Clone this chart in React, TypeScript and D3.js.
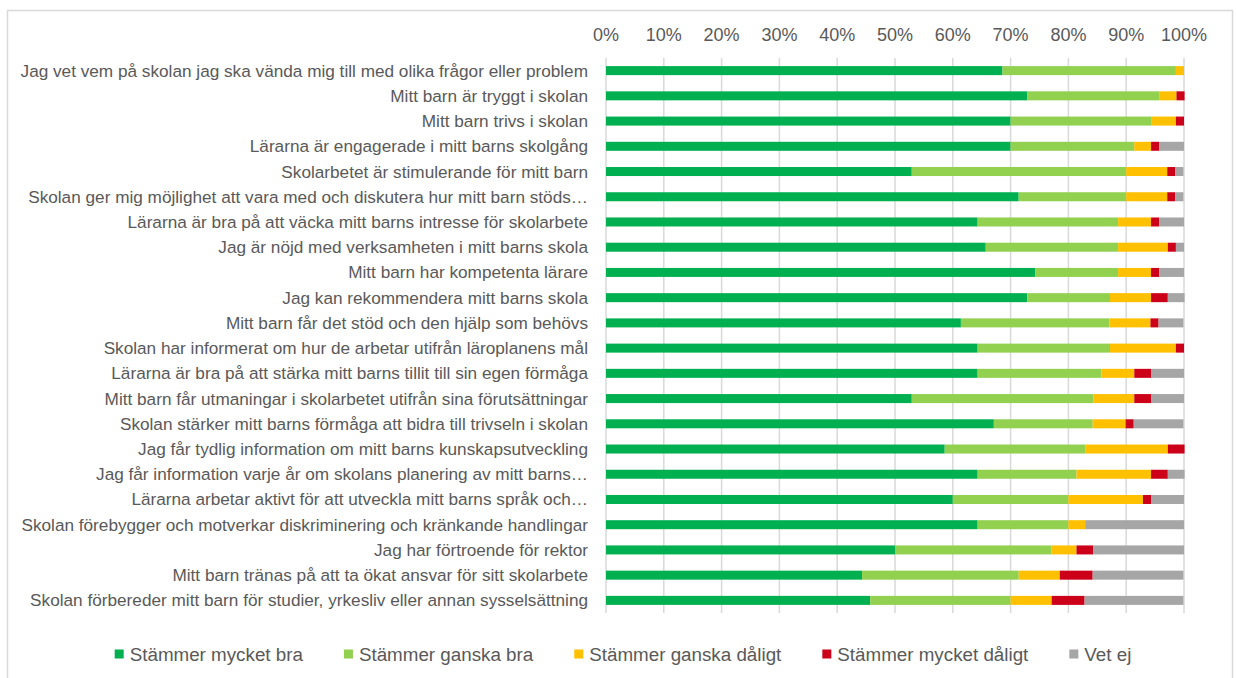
import React from "react";
import * as d3 from "d3";

const categories = [
  "Jag vet vem på skolan jag ska vända mig till med olika frågor eller problem",
  "Mitt barn är tryggt i skolan",
  "Mitt barn trivs i skolan",
  "Lärarna är engagerade i mitt barns skolgång",
  "Skolarbetet är stimulerande för mitt barn",
  "Skolan ger mig möjlighet att vara med och diskutera hur mitt barn stöds…",
  "Lärarna är bra på att väcka mitt barns intresse för skolarbete",
  "Jag är nöjd med verksamheten i mitt barns skola",
  "Mitt barn har kompetenta lärare",
  "Jag kan rekommendera mitt barns skola",
  "Mitt barn får det stöd och den hjälp som behövs",
  "Skolan har informerat om hur de arbetar utifrån läroplanens mål",
  "Lärarna är bra på att stärka mitt barns tillit till sin egen förmåga",
  "Mitt barn får utmaningar i skolarbetet utifrån sina förutsättningar",
  "Skolan stärker mitt barns förmåga att bidra till trivseln i skolan",
  "Jag får tydlig information om mitt barns kunskapsutveckling",
  "Jag får information varje år om skolans planering av mitt barns…",
  "Lärarna arbetar aktivt för att utveckla mitt barns språk och…",
  "Skolan förebygger och motverkar diskriminering och kränkande handlingar",
  "Jag har förtroende för rektor",
  "Mitt barn tränas på att ta ökat ansvar för sitt skolarbete",
  "Skolan förbereder mitt barn för studier, yrkesliv eller annan sysselsättning",
];

const seriesNames = [
  "Stämmer mycket bra",
  "Stämmer ganska bra",
  "Stämmer ganska dåligt",
  "Stämmer mycket dåligt",
  "Vet ej",
];

const veryGood = [68.6, 72.9, 70.0, 70.0, 52.9, 71.4, 64.3, 65.7, 74.3, 72.9, 61.4, 64.3, 64.3, 52.9, 67.1, 58.6, 64.3, 60.0, 64.3, 50.0, 44.3, 45.7];
const fairlyGood = [30.0, 22.9, 24.3, 21.4, 37.1, 18.6, 24.3, 22.9, 14.3, 14.3, 25.7, 22.9, 21.4, 31.4, 17.1, 24.3, 17.1, 20.0, 15.7, 27.1, 27.1, 24.3];
const fairlyBad = [1.4, 2.9, 4.3, 2.9, 7.1, 7.1, 5.7, 8.6, 5.7, 7.1, 7.1, 11.4, 5.7, 7.1, 5.7, 14.3, 12.9, 12.9, 2.9, 4.3, 7.1, 7.1];
const veryBad = [0, 1.4, 1.4, 1.4, 1.4, 1.4, 1.4, 1.4, 1.4, 2.9, 1.4, 1.4, 2.9, 2.9, 1.4, 2.9, 2.9, 1.4, 0, 2.9, 5.7, 5.7];
const dontKnow = [0, 0, 0, 4.3, 1.4, 1.4, 4.3, 1.4, 4.3, 2.9, 4.3, 0, 5.7, 5.7, 8.6, 0, 2.9, 5.7, 17.1, 15.7, 15.7, 17.1];

const tickValues = [0, 10, 20, 30, 40, 50, 60, 70, 80, 90, 100];
const colors = ["#00B050", "#92D050", "#FFC000", "#CC0019", "#A6A6A6"];

const FONT = "'Liberation Sans', Arial, sans-serif";
const W = 1236;
const H = 678;

function measure(text: string, size: number): number {
  if (typeof document === "undefined") return text.length * size * 0.5;
  const c = document.createElement("canvas");
  const ctx = c.getContext("2d");
  if (!ctx) return text.length * size * 0.5;
  ctx.font = `${size}px ${FONT}`;
  return ctx.measureText(text).width;
}

export default function App() {
  const rows = categories.map((c, i) => ({
    cat: c,
    s0: veryGood[i],
    s1: fairlyGood[i],
    s2: fairlyBad[i],
    s3: veryBad[i],
    s4: dontKnow[i],
  }));
  const keys = ["s0", "s1", "s2", "s3", "s4"];
  const stacked = d3.stack<any>().keys(keys)(rows);

  const x = d3.scaleLinear().domain([0, 100]).range([606, 1184]);
  const y = d3
    .scaleBand<string>()
    .domain(categories)
    .range([58, 613])
    .paddingInner(0.643)
    .paddingOuter(0.3215);

  const legendSize = 18.8;
  const sq = 9;
  const gapText = 6;
  const gapItem = 41;
  const widths = seriesNames.map((s) => measure(s, legendSize));
  const itemW = widths.map((w) => sq + gapText + w);
  const total = d3.sum(itemW) + gapItem * (seriesNames.length - 1);
  const legendStart = 623 - total / 2;
  const legendX: number[] = [];
  let acc = legendStart;
  itemW.forEach((w) => {
    legendX.push(acc);
    acc += w + gapItem;
  });
  const legendY = 654;

  return (
    <svg
      width={W}
      height={H}
      style={{ position: "absolute", left: 0, top: 0, background: "#fff" }}
      fontFamily={FONT}
    >
      <rect x={7.5} y={10.5} width={1225} height={700} fill="#fff" stroke="#D9D9D9" strokeWidth={1.5} />
      {tickValues.map((t) => (
        <g key={t}>
          <line x1={x(t)} x2={x(t)} y1={58} y2={613} stroke="#D9D9D9" strokeWidth={1.5} />
          <text x={x(t)} y={35} textAnchor="middle" dominantBaseline="central" fontSize={18} fill="#595959">
            {t}%
          </text>
        </g>
      ))}
      {stacked.map((layer, li) => (
        <g key={li} fill={colors[li]}>
          {layer.map((d, i) => {
            const w = x(d[1]) - x(d[0]);
            if (w <= 0) return null;
            return (
              <rect
                key={i}
                x={x(d[0])}
                y={y(categories[i])}
                width={w}
                height={y.bandwidth()}
              />
            );
          })}
        </g>
      ))}
      {categories.map((c) => (
        <text
          key={c}
          x={588}
          y={(y(c) as number) + y.bandwidth() / 2}
          textAnchor="end"
          dominantBaseline="central"
          fontSize={17.2}
          fill="#595959"
        >
          {c}
        </text>
      ))}
      {seriesNames.map((s, i) => (
        <g key={s}>
          <rect x={legendX[i]} y={legendY - sq / 2} width={sq} height={sq} fill={colors[i]} />
          <text
            x={legendX[i] + sq + gapText}
            y={legendY}
            dominantBaseline="central"
            fontSize={legendSize}
            fill="#595959"
          >
            {s}
          </text>
        </g>
      ))}
    </svg>
  );
}
